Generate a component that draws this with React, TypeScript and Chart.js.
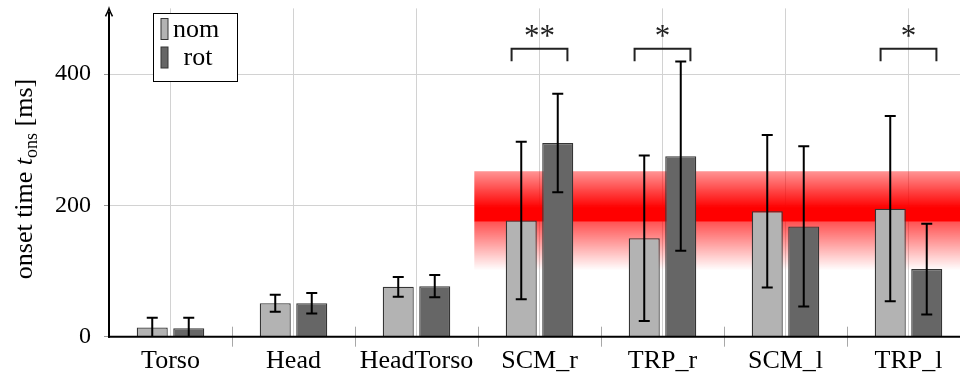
import React, { useEffect, useRef } from 'react';
import { Chart, registerables } from 'chart.js';

Chart.register(...registerables);

const categories = ['Torso', 'Head', 'HeadTorso', 'SCM_r', 'TRP_r', 'SCM_l', 'TRP_l'];
const seriesNames = ['nom', 'rot'];
const nomMean = [14, 51, 76, 177, 150, 191, 195];
const nomErr = [15, 13, 15, 120, 126, 116, 141];
const rotMean = [13, 51, 77, 295, 275, 168, 103];
const rotErr = [16, 15.5, 17, 75, 144, 122, 69];
const yTicks = [0, 200, 400];
const yMax = 500;

const sigCategories = [3, 4, 6];
const sigLabels = ['**', '*', '*'];
const sigBracketTop = 438.5;
const sigBracketLeg = 419.5;
const sigLabelValue = 462;

const bandStartIndex = 2.47;
const bandTop = 252;
const bandSolidTop = 196;
const bandPeak = 175;
const bandBottom = 101;

const NOM_COLOR = '#b3b3b3';
const ROT_COLOR = '#666666';
const BAR_BORDER = '#353535';
const GRID = '#d2d2d2';
const FONT = '"Liberation Serif", "Times New Roman", serif';

const customPlugin = {
  id: 'custom',
  beforeDatasetsDraw(chart: any) {
    const { ctx, chartArea: ca, scales } = chart;
    const x = scales.x;
    const y = scales.y;
    const cw = x.getPixelForValue(1) - x.getPixelForValue(0);
    const bx0 = x.getPixelForValue(0) + cw * bandStartIndex;
    const bx1 = ca.right;
    const yT = y.getPixelForValue(bandTop);
    const yS = y.getPixelForValue(bandSolidTop);
    const yP = y.getPixelForValue(bandPeak);
    const yB = y.getPixelForValue(bandBottom);
    ctx.save();
    const g1 = ctx.createLinearGradient(0, yT, 0, yP);
    g1.addColorStop(0, 'rgba(255,0,0,0.42)');
    g1.addColorStop((yS - yT) / (yP - yT), 'rgba(255,0,0,1)');
    g1.addColorStop(1, 'rgba(255,0,0,1)');
    ctx.fillStyle = g1;
    ctx.fillRect(bx0, yT, bx1 - bx0, yP - yT);
    const g2 = ctx.createLinearGradient(0, yP, 0, yB);
    g2.addColorStop(0, 'rgba(255,0,0,0.68)');
    g2.addColorStop(1, 'rgba(255,0,0,0)');
    ctx.fillStyle = g2;
    ctx.fillRect(bx0, yP, bx1 - bx0, yB - yP);
    ctx.restore();
  },
  afterDatasetsDraw(chart: any) {
    const { ctx, chartArea: ca, scales } = chart;
    const x = scales.x;
    const y = scales.y;
    const cw = x.getPixelForValue(1) - x.getPixelForValue(0);

    // error bars
    ctx.save();
    ctx.beginPath();
    ctx.rect(ca.left, ca.top, ca.right - ca.left, ca.bottom - ca.top);
    ctx.clip();
    ctx.strokeStyle = '#000';
    ctx.lineWidth = 2;
    const means = [nomMean, rotMean];
    const errs = [nomErr, rotErr];
    for (let d = 0; d < 2; d++) {
      const meta = chart.getDatasetMeta(d);
      meta.data.forEach((bar: any, i: number) => {
        const px = bar.x;
        const yHi = y.getPixelForValue(means[d][i] + errs[d][i]);
        const yLo = y.getPixelForValue(means[d][i] - errs[d][i]);
        ctx.beginPath();
        ctx.moveTo(px, yHi);
        ctx.lineTo(px, yLo);
        ctx.moveTo(px - 5.5, yHi);
        ctx.lineTo(px + 5.5, yHi);
        ctx.moveTo(px - 5.5, yLo);
        ctx.lineTo(px + 5.5, yLo);
        ctx.stroke();
      });
    }
    ctx.restore();

    // boundary tick marks on x axis
    ctx.save();
    ctx.strokeStyle = '#a8a8a8';
    ctx.lineWidth = 1;
    for (let i = 1; i < categories.length; i++) {
      const bx = Math.round(x.getPixelForValue(i - 0.5)) + 0.5;
      ctx.beginPath();
      ctx.moveTo(bx, ca.bottom - 10);
      ctx.lineTo(bx, ca.bottom + 10);
      ctx.stroke();
    }
    ctx.restore();

    // axes
    ctx.save();
    ctx.strokeStyle = '#000';
    ctx.fillStyle = '#000';
    ctx.lineWidth = 2;
    ctx.beginPath();
    ctx.moveTo(ca.left - 1, ca.bottom);
    ctx.lineTo(ca.right + 20, ca.bottom);
    ctx.stroke();
    ctx.beginPath();
    ctx.moveTo(ca.left, ca.bottom + 1);
    ctx.lineTo(ca.left, ca.top + 3);
    ctx.stroke();
    ctx.lineWidth = 1.5;
    ctx.beginPath();
    ctx.moveTo(ca.left - 3.5, ca.top + 8);
    ctx.quadraticCurveTo(ca.left - 1, ca.top + 3, ca.left, ca.top);
    ctx.quadraticCurveTo(ca.left + 1, ca.top + 3, ca.left + 3.5, ca.top + 8);
    ctx.stroke();
    ctx.restore();

    // significance brackets
    ctx.save();
    ctx.strokeStyle = '#222';
    ctx.fillStyle = '#222';
    ctx.lineWidth = 2;
    ctx.font = `31px ${FONT}`;
    ctx.textAlign = 'center';
    ctx.textBaseline = 'alphabetic';
    sigCategories.forEach((c, k) => {
      const cx = x.getPixelForValue(c);
      const xl = cx - cw * 0.227;
      const xr = cx + cw * 0.227;
      const yt = y.getPixelForValue(sigBracketTop);
      const yl = y.getPixelForValue(sigBracketLeg);
      ctx.beginPath();
      ctx.moveTo(xl, yl);
      ctx.lineTo(xl, yt);
      ctx.lineTo(xr, yt);
      ctx.lineTo(xr, yl);
      ctx.stroke();
      ctx.fillText(sigLabels[k], cx, y.getPixelForValue(sigLabelValue) + 13);
    });
    ctx.restore();

    // legend
    ctx.save();
    const lx = 153, ly = 13, lw = 84, lh = 68;
    ctx.fillStyle = '#fff';
    ctx.fillRect(lx, ly, lw, lh);
    ctx.strokeStyle = '#000';
    ctx.lineWidth = 1;
    ctx.strokeRect(lx + 0.5, ly + 0.5, lw, lh);
    const swatches = [NOM_COLOR, ROT_COLOR];
    ctx.font = `26px ${FONT}`;
    ctx.textBaseline = 'alphabetic';
    swatches.forEach((col, k) => {
      const sy = ly + 5.5 + k * 28.5;
      ctx.fillStyle = col;
      ctx.fillRect(lx + 8, sy, 7, 21);
      ctx.strokeStyle = BAR_BORDER;
      ctx.strokeRect(lx + 8, sy, 7, 21);
      ctx.fillStyle = '#000';
      if (k === 0) {
        ctx.textAlign = 'left';
        ctx.fillText(seriesNames[k], lx + 20, sy + 18);
      } else {
        ctx.textAlign = 'center';
        ctx.fillText(seriesNames[k], lx + 45, sy + 18);
      }
    });
    ctx.restore();

    // y axis title
    ctx.save();
    ctx.translate(32, 179);
    ctx.rotate(-Math.PI / 2);
    ctx.fillStyle = '#000';
    ctx.textBaseline = 'alphabetic';
    ctx.textAlign = 'left';
    const fMain = `26px ${FONT}`;
    const fIt = `italic 26px ${FONT}`;
    const fSub = `18px ${FONT}`;
    const parts = [
      { t: 'onset time ', f: fMain, dy: 0 },
      { t: 't', f: fIt, dy: 0 },
      { t: 'ons', f: fSub, dy: 5 },
      { t: ' [ms]', f: fMain, dy: 0 },
    ];
    let total = 0;
    const widths = parts.map((p) => {
      ctx.font = p.f;
      const w = ctx.measureText(p.t).width;
      total += w;
      return w;
    });
    let cxp = -total / 2;
    parts.forEach((p, i) => {
      ctx.font = p.f;
      ctx.fillText(p.t, cxp, p.dy);
      cxp += widths[i];
    });
    ctx.restore();
  },
};

export default function App() {
  const ref = useRef<HTMLCanvasElement | null>(null);
  useEffect(() => {
    if (!ref.current) return;
    Chart.defaults.font.family = FONT;
    const chart = new Chart(ref.current, {
      type: 'bar',
      data: {
        labels: categories,
        datasets: [
          {
            label: seriesNames[0],
            data: nomMean,
            backgroundColor: NOM_COLOR,
            borderColor: BAR_BORDER,
            borderWidth: 1.3,
            categoryPercentage: 0.5935,
            barPercentage: 0.85,
          },
          {
            label: seriesNames[1],
            data: rotMean,
            backgroundColor: ROT_COLOR,
            borderColor: BAR_BORDER,
            borderWidth: 1.3,
            categoryPercentage: 0.5935,
            barPercentage: 0.85,
          },
        ],
      },
      options: {
        responsive: false,
        animation: false,
        devicePixelRatio: 1,
        layout: { padding: { top: 8.4, left: 0, right: 0, bottom: 0 } },
        plugins: {
          legend: { display: false },
          tooltip: { enabled: false },
          title: { display: false },
        },
        scales: {
          x: {
            type: 'category',
            offset: true,
            grid: { color: GRID, offset: false, drawTicks: false, lineWidth: 1 },
            border: { display: false },
            ticks: { color: '#000', font: { size: 26, family: FONT }, padding: 9, maxRotation: 0, autoSkip: false },
            afterFit: (s: any) => {
              s.height = 40.3;
              s.paddingLeft = 0;
              s.paddingRight = 0;
            },
          },
          y: {
            type: 'linear',
            min: 0,
            max: yMax,
            grid: { color: GRID, tickColor: '#999', tickLength: 5, lineWidth: 1 },
            border: { display: false },
            ticks: { color: '#000', font: { size: 24, family: FONT }, padding: 13 },
            afterBuildTicks: (s: any) => {
              s.ticks = yTicks.map((v) => ({ value: v }));
            },
            afterFit: (s: any) => {
              s.width = 109;
              s.paddingTop = 0;
              s.paddingBottom = 0;
            },
          },
        },
      },
      plugins: [customPlugin],
    } as any);
    return () => chart.destroy();
  }, []);
  return (
    <div style={{ position: 'fixed', left: 0, top: 0, width: 960, height: 377, overflow: 'hidden', background: '#fff' }}>
      <canvas ref={ref} width={970} height={377} style={{ display: 'block', width: 970, height: 377 }} />
    </div>
  );
}
